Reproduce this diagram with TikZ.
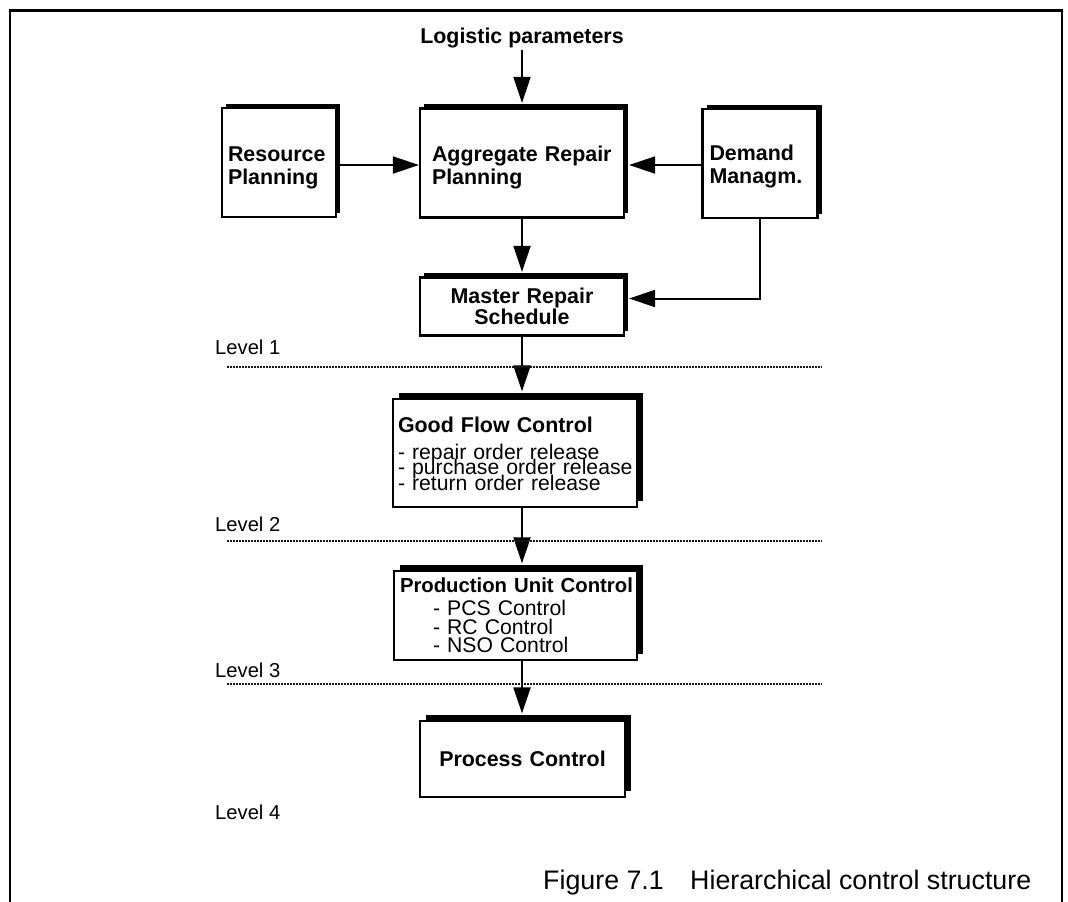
\documentclass[tikz,border=0pt]{standalone}
\usepackage{fontspec}
\setmainfont{Liberation Sans}
\usetikzlibrary{arrows.meta,calc,shadows}

% fonts used in the chart
\newcommand\bfnt{\fontsize{21.4pt}{23pt}\selectfont\bfseries}
\newcommand\rfnt{\fontsize{21.2pt}{15.5pt}\selectfont\lineskiplimit=-100pt\relax}
\newcommand\lvfnt{\fontsize{20.2pt}{24pt}\selectfont}
\newcommand\capfnt{\fontsize{26.8pt}{30pt}\selectfont}
% invisible strut that lowers a box's text block
\newcommand\toppad[1]{\rule{0pt}{#1}}

\begin{document}
\begin{tikzpicture}[x=1pt,y=-1pt,
  box/.style={draw, line width=2.2pt, fill=white, inner ysep=0pt},
  shadowA/.style={drop shadow={shadow xshift=4pt, shadow yshift=4.5pt, fill=black, opacity=1}},
  shadowB/.style={drop shadow={shadow xshift=6pt, shadow yshift=6.5pt, fill=black, opacity=1}},
  conn/.style={line width=2pt, -{Triangle[length=26pt,width=17pt]}},
  levelline/.style={line width=2pt, black!90, dash pattern=on 1.5pt off 1.5pt},
  levellabel/.style={anchor=base west, inner sep=0pt, font=\lvfnt},
]
\useasboundingbox (0,0) rectangle (1068,902);

% outer frame, open at the bottom
\draw[line width=2.5pt] (10,910) -- (10,10.5) -- (1062,10.5) -- (1062,910);

% top row
\node[inner sep=1.5pt, font=\bfnt] (lp) at (522,38) {Logistic parameters};

\node[box, shadowA, minimum width=114pt, minimum height=109pt, text width=102pt,
      inner xsep=6pt, align=left, font=\bfnt] (res) at (279,162.5)
  {\mbox{\toppad{25.4pt}Resource}\\\mbox{Planning}};
\node[box, shadowA, minimum width=204pt, minimum height=109pt, text width=180pt,
      inner xsep=12pt, align=left, font=\bfnt] (agg) at (522,163)
  {\mbox{\toppad{25.4pt}Aggregate Repair}\\\mbox{Planning}};
\node[box, shadowA, minimum width=115pt, minimum height=109pt, text width=101pt,
      inner xsep=7pt, align=left, font=\bfnt] (dem) at (760,163.5)
  {\mbox{\toppad{21.4pt}Demand}\\\mbox{Managm.}};

\node[box, shadowA, minimum width=204pt, minimum height=58pt, text width=190pt,
      inner xsep=7pt, align=center,
      font={\fontsize{21.4pt}{21pt}\selectfont\bfseries}] (mrs) at (522,306.5)
  {Master Repair\\Schedule};

% level 2 and 3 controllers
\node[box, shadowB, minimum width=244pt, minimum height=108pt, text width=234pt,
      inner xsep=5pt, align=left, font=\rfnt] (gfc) at (515,453)
  {{\bfnt\mbox{\toppad{16.4pt}Good Flow Control}\par}\vspace{11.5pt}\mbox{- repair order release}\\\mbox{- purchase order release}\\\mbox{- return order release}};

\node[box, shadowB, minimum width=243pt, minimum height=89pt, text width=231pt,
      inner xsep=6pt, align=left,
      font={\fontsize{21.2pt}{18.5pt}\selectfont\lineskiplimit=-100pt\relax}] (puc) at (515.5,615.5)
  {{\fontsize{20.3pt}{23pt}\selectfont\bfseries\mbox{Production Unit Control}\par}\vspace{4.8pt}\mbox{\hspace*{33pt}- PCS Control}\\\mbox{\hspace*{33pt}- RC Control}\\\mbox{\hspace*{33pt}- NSO Control}};

\node[box, shadowB, minimum width=205pt, minimum height=76pt, text width=190pt,
      inner xsep=7pt, align=center, font=\bfnt] (pc) at (522.5,759) {Process Control};

% connectors
\coordinate (rowA) at (0,165);
\draw[conn] (lp.south) -- ($(agg.north)+(0,-4.5)$);
\draw[conn] (res.east |- rowA) -- (agg.west |- rowA);
\draw[conn] (dem.west |- rowA) -- ($(agg.east |- rowA)+(4,0)$);
\draw[conn] (agg.south) -- ($(mrs.north)+(0,-4.5)$);
\draw[conn] (dem.south) |- ($(mrs.east)+(4,-8)$);
\draw[conn] (mrs.south) -- ($(mrs.south |- gfc.north)+(0,-6.5)$);
\draw[conn] (mrs.south |- gfc.south) -- ($(mrs.south |- puc.north)+(0,-6.5)$);
\draw[conn] (mrs.south |- puc.south) -- ($(mrs.south |- pc.north)+(0,-6.5)$);

% level boundaries
\coordinate (l1a) at (227,367);  \coordinate (l1b) at (822,367);
\coordinate (l2a) at (227,541);  \coordinate (l2b) at (822,541);
\coordinate (l3a) at (227,684);  \coordinate (l3b) at (822,684);
\draw[levelline] (l1a) -- (l1b);
\draw[levelline] (l2a) -- (l2b);
\draw[levelline] (l3a) -- (l3b);

\node[levellabel] (lv1) at (215,354) {Level 1};
\node[levellabel] (lv2) at (215,531) {Level 2};
\node[levellabel] (lv3) at (215,677) {Level 3};
\node[levellabel] (lv4) at (215,819) {Level 4};

% caption
\node[anchor=base west, inner sep=0pt, font=\capfnt] (capnum) at (543,889.5) {Figure 7.1};
\node[anchor=base west, inner sep=0pt, font=\capfnt] (captxt) at (690,889.5) {Hierarchical control structure};
\end{tikzpicture}
\end{document}
